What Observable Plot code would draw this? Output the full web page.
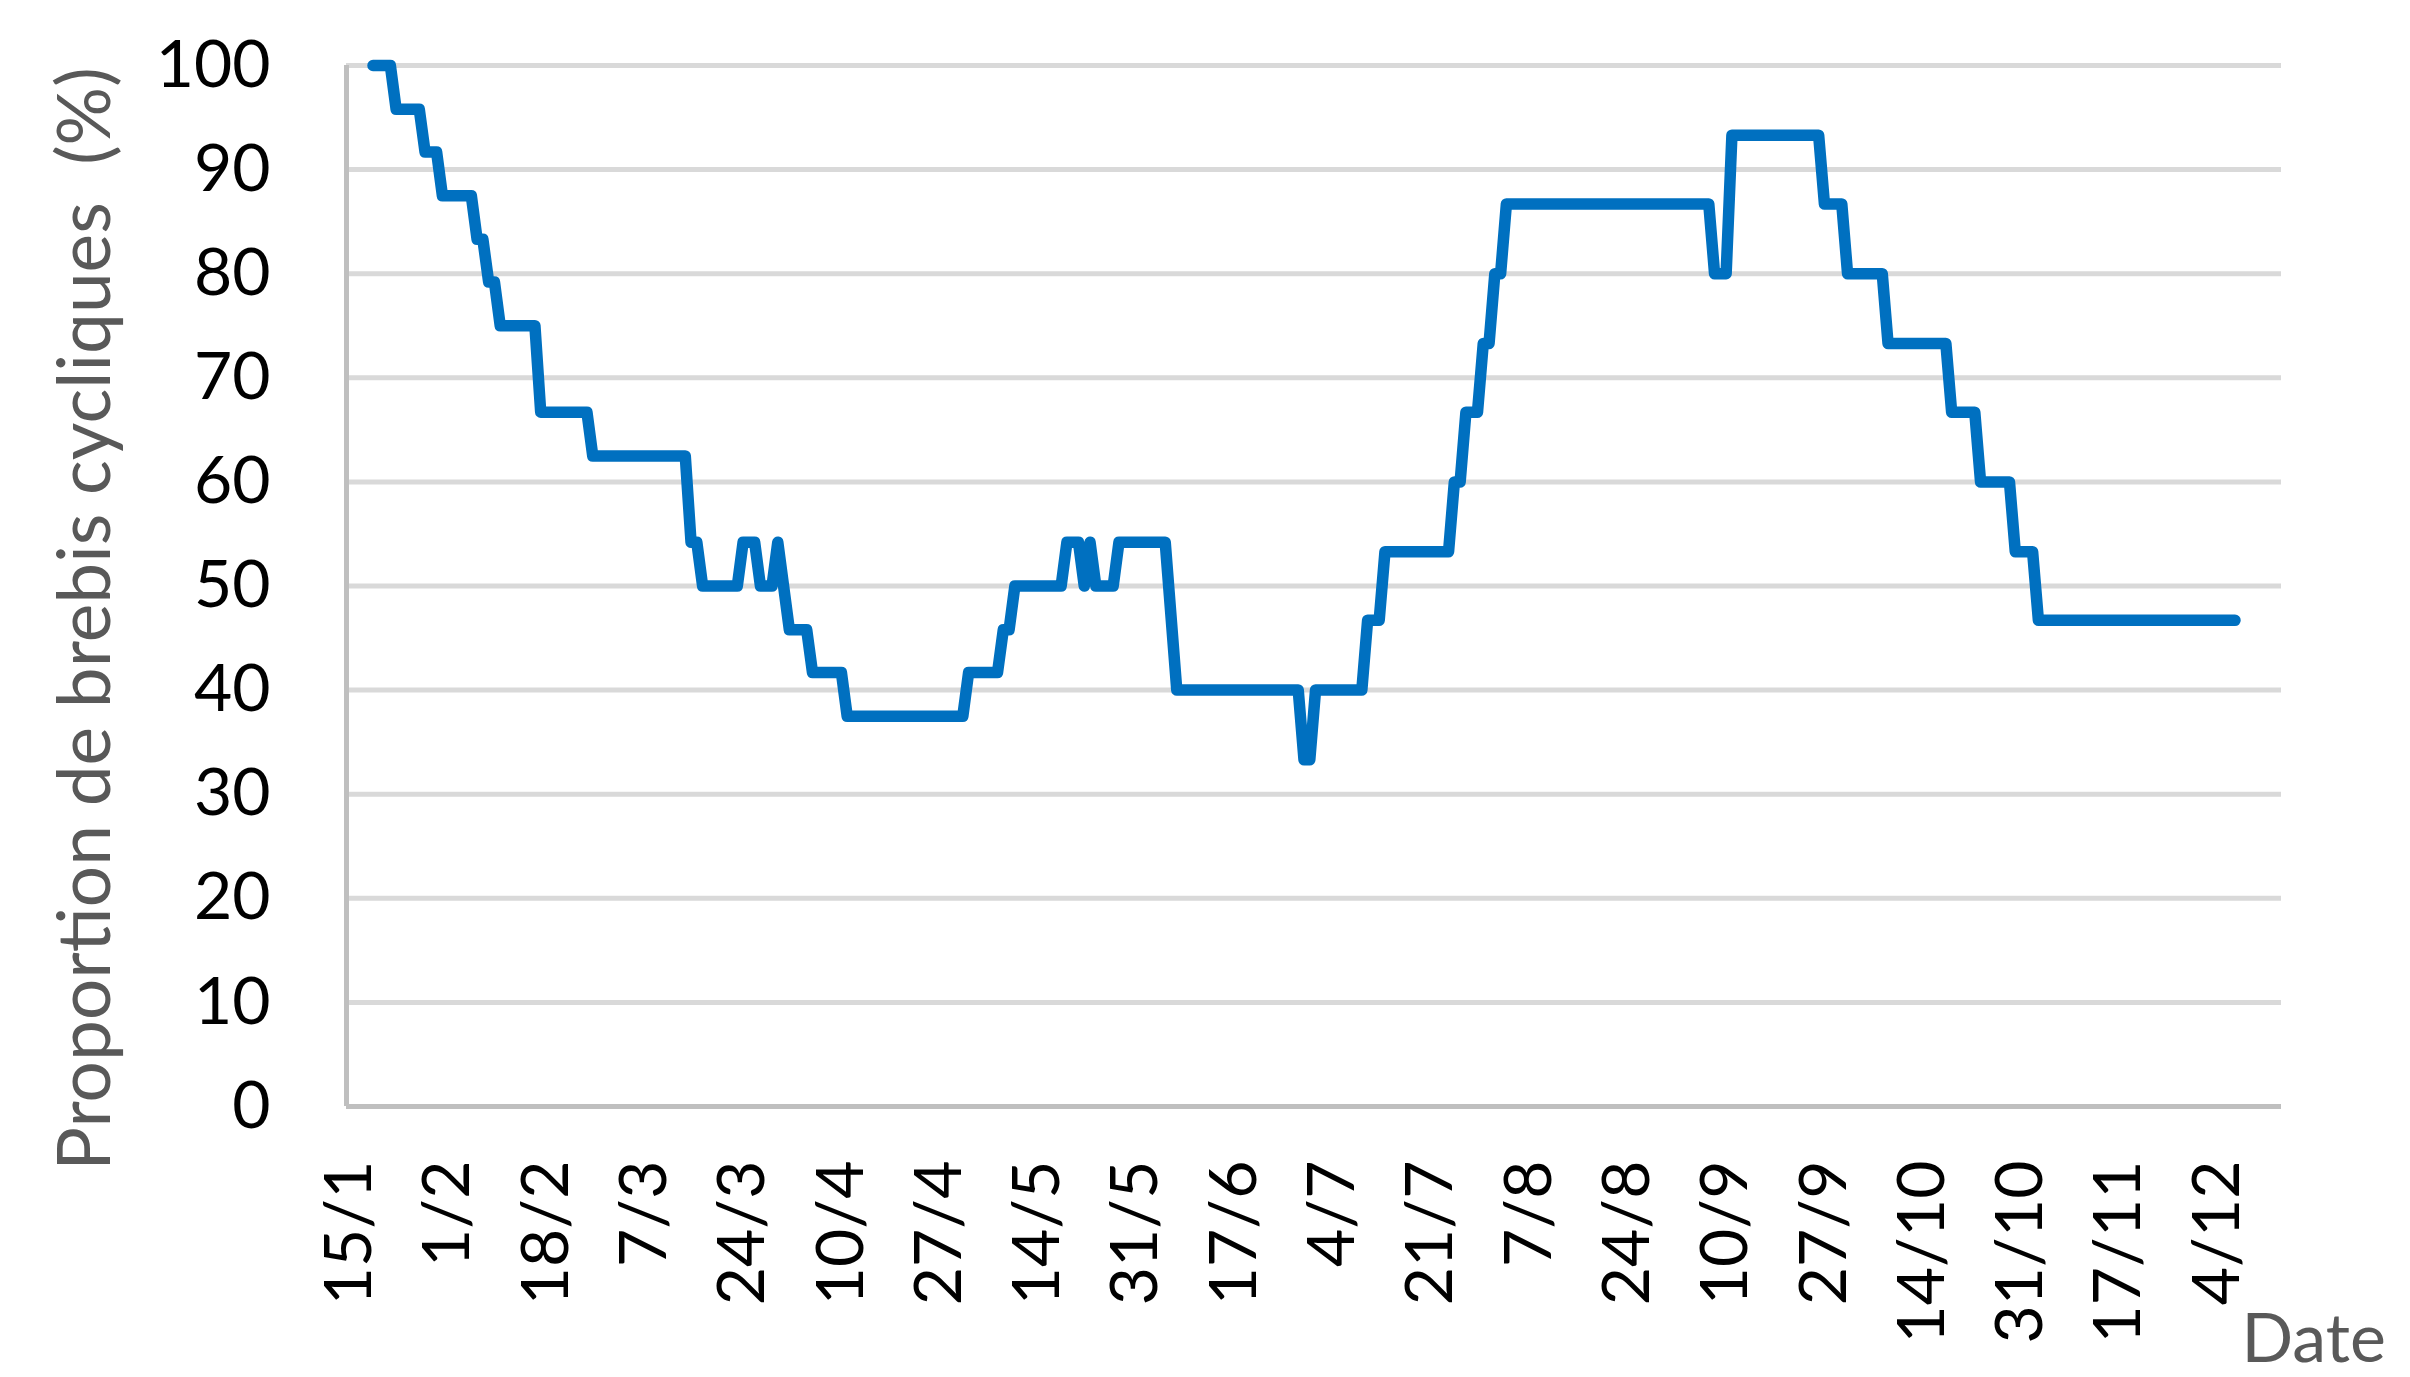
<!DOCTYPE html>
<html>
<head>
<meta charset="utf-8">
<script src="https://cdn.jsdelivr.net/npm/d3@7"></script>
<script src="https://cdn.jsdelivr.net/npm/@observablehq/plot@0.6"></script>
<style>
  html, body { margin: 0; padding: 0; background: #fff; }
  #chart { width: 2410px; height: 1377px; overflow: hidden; }
</style>
</head>
<body>
<div id="chart"></div>
<script>
// ---- Data ----
const YEAR = 2021;
const dates = [
  "19/1","22/1","23/1","27/1","28/1","30/1","31/1","5/2","6/2","7/2",
  "8/2","9/2","10/2","16/2","17/2","25/2","26/2","14/3","15/3","16/3",
  "17/3","23/3","24/3","26/3","27/3","29/3","30/3","31/3","1/4","4/4",
  "5/4","10/4","11/4","1/5","2/5","7/5","8/5","9/5","10/5","18/5",
  "19/5","21/5","22/5","23/5","24/5","27/5","28/5","5/6","7/6","28/6",
  "29/6","30/6","1/7","9/7","10/7","12/7","13/7","24/7","25/7","26/7",
  "27/7","29/7","30/7","31/7","1/8","2/8","3/8","7/9","8/9","10/9",
  "11/9","26/9","27/9","30/9","1/10","7/10","8/10","18/10","19/10","23/10",
  "24/10","29/10","30/10","2/11","3/11","7/12"
];
const values = [
  100,100,95.8,95.8,91.7,91.7,87.5,87.5,83.3,83.3,
  79.2,79.2,75,75,66.7,66.7,62.5,62.5,54.2,54.2,
  50,50,54.2,54.2,50,50,54.2,50,45.8,45.8,
  41.7,41.7,37.5,37.5,41.7,41.7,45.8,45.8,50,50,
  54.2,54.2,50,54.2,50,50,54.2,54.2,40,40,
  33.3,33.3,40,40,46.7,46.7,53.3,53.3,60,60,
  66.7,66.7,73.3,73.3,80,80,86.7,86.7,80,80,
  93.3,93.3,86.7,86.7,80,80,73.3,73.3,66.7,66.7,
  60,60,53.3,53.3,46.7,46.7
];
const tickLabels = ["15/1","1/2","18/2","7/3","24/3","10/4","27/4","14/5","31/5","17/6",
                    "4/7","21/7","7/8","24/8","10/9","27/9","14/10","31/10","17/11","4/12"];
const yTicks = [0,10,20,30,40,50,60,70,80,90,100];
const xDomainText = ["2021-01-14T10:00:00Z", "2021-12-15T01:00:00Z"];
const yLabel = "Proportion de brebis cycliques\u00a0 (%)";
const xLabel = "Date";

// ---- Build ----
const parseDM = s => { const [d, m] = s.split("/").map(Number); return new Date(Date.UTC(YEAR, m - 1, d)); };
const data = dates.map((s, i) => ({date: parseDM(s), value: values[i]}));
const tickDates = tickLabels.map(parseDM);
const xDomain = xDomainText.map(s => new Date(s));

const FONT = "Lato, 'Liberation Sans', sans-serif";

const chart = Plot.plot({
  width: 2410,
  height: 1377,
  marginLeft: 346,
  marginRight: 129,
  marginTop: 65,
  marginBottom: 271,
  style: {fontFamily: FONT, fontSize: "66px", color: "#000", background: "#fff", overflow: "visible"},
  x: {type: "utc", domain: xDomain},
  y: {domain: [0, 100]},
  marks: [
    Plot.ruleY(yTicks, {stroke: "#D9D9D9", strokeWidth: 5}),
    Plot.ruleY([0], {stroke: "#BFBFBF", strokeWidth: 5}),
    Plot.ruleX([xDomain[0]], {stroke: "#BFBFBF", strokeWidth: 5}),
    Plot.axisX(tickDates, {
      tickSize: 0, tickPadding: 54, tickRotate: -90,
      tickFormat: d => `${d.getUTCDate()}/${d.getUTCMonth() + 1}`,
      label: null, fill: "#000", fontSize: 66
    }),
    Plot.axisY(yTicks, {tickSize: 0, tickPadding: 76, label: null, fill: "#000", fontSize: 66}),
    Plot.line(data, {x: "date", y: "value", stroke: "#0070C0", strokeWidth: 11.5, strokeLinejoin: "round", strokeLinecap: "round"}),
    Plot.text([yLabel], {frameAnchor: "left", textAnchor: "middle", lineAnchor: "middle", rotate: -90, dx: -260, dy: 33, fill: "#595959", fontSize: 73}),
    Plot.text([xLabel], {frameAnchor: "bottom-right", textAnchor: "start", lineAnchor: "bottom", dx: -40, dy: 255, fill: "#595959", fontSize: 68})
  ]
});
document.getElementById("chart").appendChild(chart);
</script>
</body>
</html>
